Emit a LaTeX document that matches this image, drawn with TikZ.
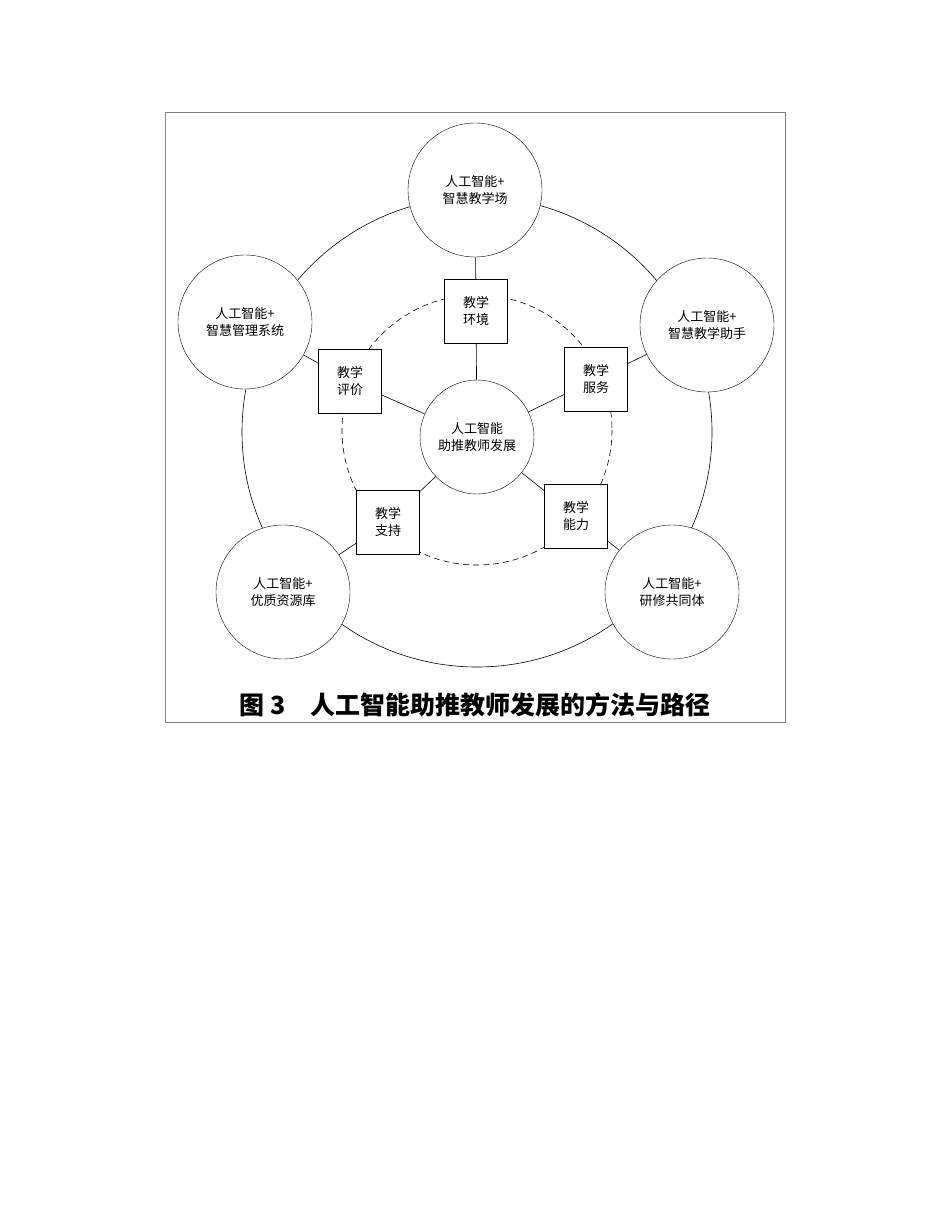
\documentclass[tikz,border=0pt]{standalone}
\usepackage{fontspec}
\setmainfont{Noto Sans CJK SC}
\begin{document}
\begin{tikzpicture}[x=1pt,y=-1pt,
  circ/.style={draw,circle,minimum size=134pt,inner sep=0pt,align=center,font=\fontsize{13}{17}\selectfont,fill=white},
  sq/.style={draw,minimum width=63pt,minimum height=64pt,align=center,font=\fontsize{13}{17}\selectfont,fill=white},
  ln/.style={line width=0.6pt}]
\useasboundingbox (0,0) rectangle (950,1230);
\draw[line width=0.4pt,gray] (165,112) rectangle (785,722);
\draw[ln] (477,432) circle (235);
\draw[ln,dashed,dash pattern=on 6pt off 4pt] (477,430) circle (135);
\node[circ,minimum size=114pt] (c) at (477,437) {人工智能\\助推教师发展};
\node[sq] (s1) at (476,311) {教学\\环境};
\node[sq] (s2) at (596,379) {教学\\服务};
\node[sq] (s3) at (350,381) {教学\\评价};
\node[sq] (s4) at (388,522) {教学\\支持};
\node[sq] (s5) at (576,516) {教学\\能力};
\node[circ] (o1) at (475,190) {人工智能+\\智慧教学场};
\node[circ] (o2) at (707,325) {人工智能+\\智慧教学助手};
\node[circ] (o3) at (245,322) {人工智能+\\智慧管理系统};
\node[circ] (o4) at (283,592) {人工智能+\\优质资源库};
\node[circ] (o5) at (672,592) {人工智能+\\研修共同体};
\foreach \s/\o in {s1/o1,s2/o2,s3/o3,s4/o4,s5/o5}{
  \draw[ln] (c) -- (\s);
  \draw[ln] (\s) -- (\o);
}
\node[font=\bfseries\fontsize{25}{28}\selectfont] (cap) at (475,705) {图 3\quad 人工智能助推教师发展的方法与路径};
\end{tikzpicture}
\end{document}
